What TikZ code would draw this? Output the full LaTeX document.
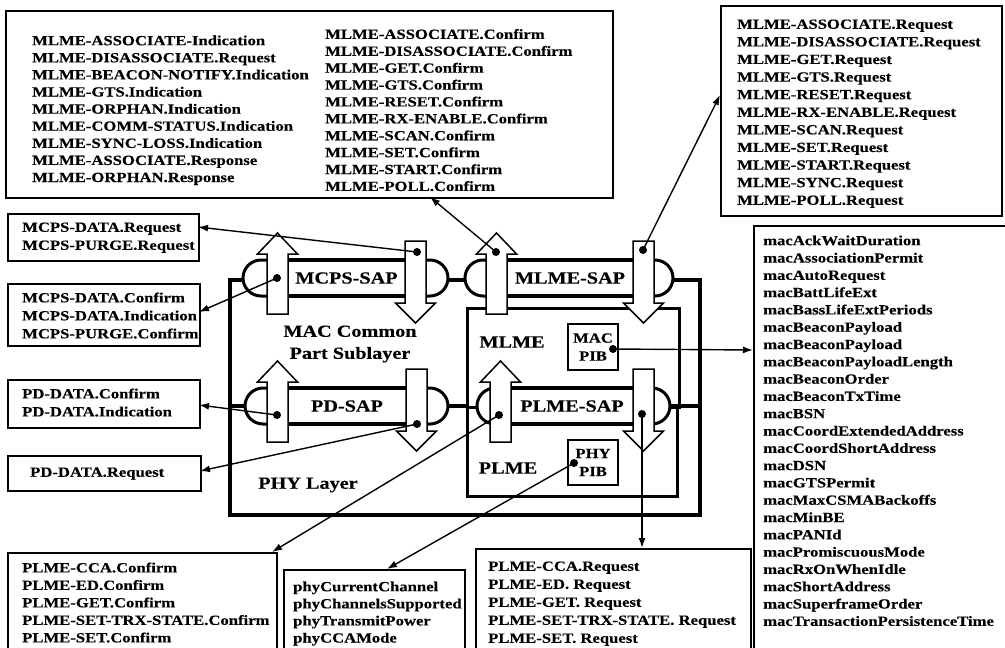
\documentclass[tikz,border=0pt]{standalone}
\usepackage{fontspec}
\newfontfamily\tf{Liberation Serif}[FakeStretch=1.19,FakeBold=0.3]
\usetikzlibrary{arrows.meta}
\newcommand{\sapbar}[7]{%
  \draw[sapline, fill=white, rounded corners=18pt] ({#3},{#2-18}) rectangle ({#4},{#2+18});
  \draw[line width=4.5pt] ({#5+21},{#2-18}) -- ({#6},{#2-18}) ({#5+21},{#2+18}) -- ({#6},{#2+18});
  \draw[arr] ({#5},{#2+36}) -- ({#5},{#2-24}) -- ({#5-9.5},{#2-24}) -- ({#5+10.5},{#2-45}) -- ({#5+30.5},{#2-24}) -- ({#5+21},{#2-24}) -- ({#5+21},{#2+36}) -- cycle;
  \draw[arr] ({#6},{#2-37}) -- ({#6+21},{#2-37}) -- ({#6+21},{#2+25}) -- ({#6+30.5},{#2+25}) -- ({#6+10.5},{#2+45}) -- ({#6-9.5},{#2+25}) -- ({#6},{#2+25}) -- cycle;
  \node[big] (#1) at ({(#5+21+#6)/2},{#2}) {#7};
}
\begin{document}
\begin{tikzpicture}[x=1pt,y=-1pt,
  lst/.style={font=\tf\bfseries\fontsize{14}{#1}\selectfont, align=left, anchor=north west, inner sep=0pt},
  lst/.default=17.3,
  box/.style={draw, line width=1.6pt, anchor=north west, inner sep=0pt},
  big/.style={font=\tf\bfseries\fontsize{17}{22}\selectfont, inner sep=0pt, align=center},
  pib/.style={draw, line width=1.5pt, font=\tf\bfseries\fontsize{14}{18}\selectfont, align=center, inner sep=0pt},
  dot/.style={circle, fill, inner sep=0pt, minimum size=8pt},
  conn/.style={line width=1.4pt, -{Latex[length=10pt,width=7pt]}},
  sapline/.style={line width=3pt},
  arr/.style={draw, fill=white, line width=1.5pt, line join=miter},
]
\useasboundingbox (0,0) rectangle (1005,648);

% ---------- outer text boxes ----------
\node[box, minimum width=607pt, minimum height=187pt] (topbox) at (5,10) {};
\node[box, minimum width=281pt, minimum height=210pt] (reqbox) at (720,5) {};
\node[box, minimum width=270pt, minimum height=440pt] (macbox) at (753,225) {};
\node[box, minimum width=191pt, minimum height=47pt] (mcpsreq) at (7,213) {};
\node[box, minimum width=192pt, minimum height=62pt] (mcpsconf) at (7,283) {};
\node[box, minimum width=192pt, minimum height=48pt] (pdconf) at (7,379) {};
\node[box, minimum width=193pt, minimum height=35pt] (pdreq) at (7,455) {};
\node[box, minimum width=269pt, minimum height=110pt] (plmeconf) at (7,552) {};
\node[box, minimum width=181pt, minimum height=90pt] (phyattr) at (283,569) {};
\node[box, minimum width=275pt, minimum height=110pt] (plmereq) at (475,548) {};

\node[lst=17.1] (t-ind) at (32,35.3) {MLME-ASSOCIATE-Indication\\MLME-DISASSOCIATE.Request\\MLME-BEACON-NOTIFY.Indication\\MLME-GTS.Indication\\MLME-ORPHAN.Indication\\MLME-COMM-STATUS.Indication\\MLME-SYNC-LOSS.Indication\\MLME-ASSOCIATE.Response\\MLME-ORPHAN.Response};
\node[lst=16.9] (t-conf) at (325,28.8) {MLME-ASSOCIATE.Confirm\\MLME-DISASSOCIATE.Confirm\\MLME-GET.Confirm\\MLME-GTS.Confirm\\MLME-RESET.Confirm\\MLME-RX-ENABLE.Confirm\\MLME-SCAN.Confirm\\MLME-SET.Confirm\\MLME-START.Confirm\\MLME-POLL.Confirm};
\node[lst=17.6] (t-req) at (737,19.3) {MLME-ASSOCIATE.Request\\MLME-DISASSOCIATE.Request\\MLME-GET.Request\\MLME-GTS.Request\\MLME-RESET.Request\\MLME-RX-ENABLE.Request\\MLME-SCAN.Request\\MLME-SET.Request\\MLME-START.Request\\MLME-SYNC.Request\\MLME-POLL.Request};
\node[lst=17.3] (t-mac) at (763,235.3) {macAckWaitDuration\\macAssociationPermit\\macAutoRequest\\macBattLifeExt\\macBassLifeExtPeriods\\macBeaconPayload\\macBeaconPayload\\macBeaconPayloadLength\\macBeaconOrder\\macBeaconTxTime\\macBSN\\macCoordExtendedAddress\\macCoordShortAddress\\macDSN\\macGTSPermit\\macMaxCSMABackoffs\\macMinBE\\macPANId\\macPromiscuousMode\\macRxOnWhenIdle\\macShortAddress\\macSuperframeOrder\\macTransactionPersistenceTime};
\node[lst=18] (t-mcpsreq) at (22,222.3) {MCPS-DATA.Request\\MCPS-PURGE.Request};
\node[lst=18] (t-mcpsconf) at (22,292.3) {MCPS-DATA.Confirm\\MCPS-DATA.Indication\\MCPS-PURGE.Confirm};
\node[lst=18] (t-pdconf) at (22,388.3) {PD-DATA.Confirm\\PD-DATA.Indication};
\node[lst=18] (t-pdreq) at (30,467.3) {PD-DATA.Request};
\node[lst=17.5] (t-plmeconf) at (22,562.3) {PLME-CCA.Confirm\\PLME-ED.Confirm\\PLME-GET.Confirm\\PLME-SET-TRX-STATE.Confirm\\PLME-SET.Confirm};
\node[lst=17.1] (t-phy) at (293,581.3) {phyCurrentChannel\\phyChannelsSupported\\phyTransmitPower\\phyCCAMode};
\node[lst=18] (t-plmereq) at (488,561.3) {PLME-CCA.Request\\PLME-ED. Request\\PLME-GET. Request\\PLME-SET-TRX-STATE. Request\\PLME-SET. Request};

% ---------- layer structure ----------
\node[draw, line width=4pt, anchor=north west, inner sep=0pt, minimum width=470pt, minimum height=235pt] (phy) at (228,278) {};
\draw[line width=3.5pt] (228,406) -- (466,406) (670,406) -- (698,406);
\node[draw, line width=3pt, anchor=north west, inner sep=0pt, minimum width=212pt, minimum height=99pt] (mlme) at (466,307) {};
\node[draw, line width=3pt, anchor=north west, inner sep=0pt, minimum width=210pt, minimum height=89pt] (plme) at (466,406) {};
\node[pib, minimum width=50pt, minimum height=46pt] (macpib) at (593,347) {MAC\\PIB};
\node[pib, minimum width=50pt, minimum height=45pt] (phypib) at (593,462.5) {PHY\\PIB};

\node[big] (lmac) at (350,344) {MAC Common\\Part Sublayer};
\node[big] (lphy) at (308,485) {PHY Layer};
\node[big] (lmlme) at (512,342) {MLME};
\node[big] (lplme) at (508,468) {PLME};

% ---------- SAPs ----------
\sapbar{mcpssap}{278}{243}{448}{267}{405}{MCPS-SAP}
\sapbar{mlmesap}{278}{465}{673}{486}{633}{MLME-SAP}
\sapbar{pdsap}{406}{245}{448}{267}{406}{PD-SAP}
\sapbar{plmesap}{406}{477}{670}{490}{633}{PLME-SAP}

% ---------- dots ----------
\node[dot] (d-mcpsup) at (277,278) {};
\node[dot] (d-mcpsdn) at (417,252) {};
\node[dot] (d-mlmeup) at (496,252) {};
\node[dot] (d-mlmedn) at (643,250) {};
\node[dot] (d-pdup) at (277,415) {};
\node[dot] (d-pddn) at (417,424) {};
\node[dot] (d-plmeup) at (499,415) {};
\node[dot] (d-plmedn) at (642,414) {};
\node[dot] (d-macpib) at (613,349) {};
\node[dot] (d-phypib) at (574,463) {};

% ---------- arrow targets ----------
\coordinate (a-mcpsreq) at (198,227);
\coordinate (a-mcpsconf) at (199,312);
\coordinate (a-top) at (430,197);
\coordinate (a-req) at (720,95);
\coordinate (a-pdconf) at (199,405);
\coordinate (a-pdreq) at (200,471);
\coordinate (a-plmeconf) at (272,552);
\coordinate (a-plmereq) at (642,548);
\coordinate (a-mac) at (753,350);
\coordinate (a-phy) at (387,569);

\draw[conn] (d-mcpsdn.center) -- (a-mcpsreq);
\draw[conn] (d-mcpsup.center) -- (a-mcpsconf);
\draw[conn] (d-mlmeup.center) -- (a-top);
\draw[conn] (d-mlmedn.center) -- (a-req);
\draw[conn] (d-pdup.center) -- (a-pdconf);
\draw[conn] (d-pddn.center) -- (a-pdreq);
\draw[conn] (d-plmeup.center) -- (a-plmeconf);
\draw[conn] (d-plmedn.center) -- (a-plmereq);
\draw[conn] (d-macpib.center) -- (a-mac);
\draw[conn] (d-phypib.center) -- (a-phy);
\end{tikzpicture}
\end{document}
